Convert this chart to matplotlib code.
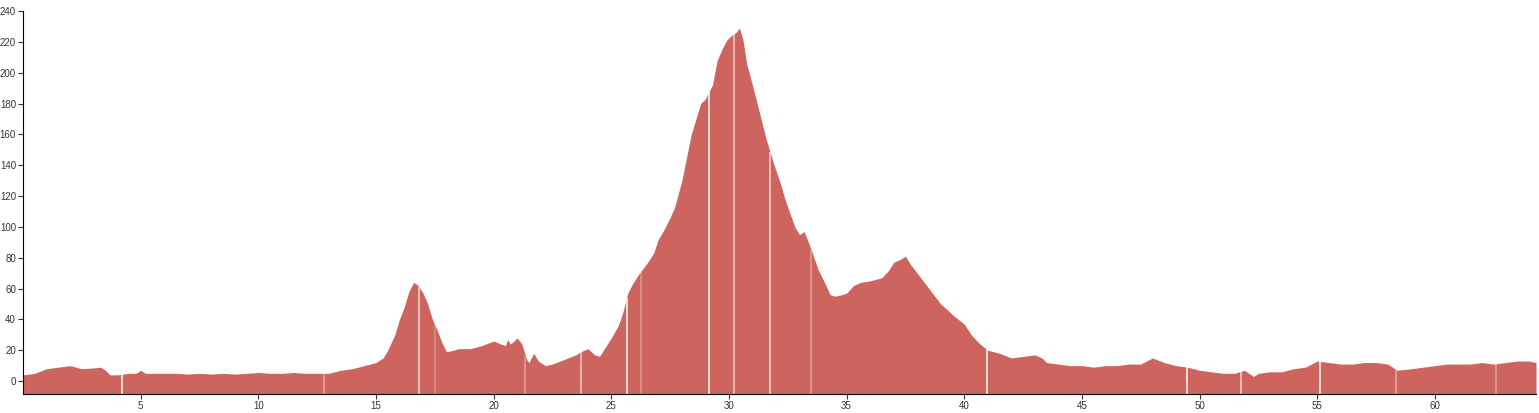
import numpy as np
import matplotlib
matplotlib.use("Agg")
import matplotlib.pyplot as plt

plt.rcParams['font.family'] = ['Liberation Sans', 'DejaVu Sans']

# 距离 (km) 与 高度
dist = [0.0, 0.5, 1.0, 1.5, 2.0, 2.5, 3.0, 3.3, 3.5, 3.7, 4.0, 4.5, 4.8, 5.0, 5.2, 5.5,
        6.0, 6.5, 7.0, 7.5, 8.0, 8.5, 9.0, 9.5, 10.0, 10.5, 11.0, 11.5, 12.0, 12.5,
        13.0, 13.5, 14.0, 14.5, 15.0, 15.3, 15.5, 15.8, 16.0, 16.2, 16.4, 16.6, 16.8,
        17.0, 17.2, 17.4, 17.6, 17.8, 18.0, 18.3, 18.5, 19.0, 19.5, 20.0, 20.3, 20.5,
        20.6, 20.7, 20.8, 21.0, 21.2, 21.4, 21.5, 21.7, 21.9, 22.2, 22.5, 23.0, 23.5,
        23.7, 24.0, 24.3, 24.5, 25.0, 25.3, 25.5, 25.7, 25.9, 26.2, 26.5, 26.8, 27.0,
        27.2, 27.5, 27.7, 28.0, 28.2, 28.4, 28.6, 28.8, 29.0, 29.1, 29.3, 29.5, 29.7,
        29.9, 30.1, 30.3, 30.45, 30.6, 30.75, 31.0, 31.3, 31.6, 31.9, 32.15, 32.4,
        32.8, 33.0, 33.2, 33.5, 33.8, 34.0, 34.3, 34.5, 34.8, 35.0, 35.3, 35.6, 36.0,
        36.5, 36.8, 37.0, 37.3, 37.5, 37.7, 38.0, 38.5, 39.0, 39.3, 39.5, 40.0, 40.3,
        40.6, 41.0, 41.5, 42.0, 42.5, 43.0, 43.3, 43.5, 44.0, 44.5, 45.0, 45.5, 46.0,
        46.5, 47.0, 47.5, 48.0, 48.5, 49.0, 49.5, 50.0, 50.5, 51.0, 51.5, 51.9, 52.3,
        52.5, 53.0, 53.5, 54.0, 54.5, 55.0, 55.5, 56.0, 56.5, 57.0, 57.5, 58.0, 58.4,
        59.0, 59.5, 60.0, 60.5, 61.0, 61.5, 62.0, 62.5, 63.0, 63.5, 64.0, 64.3]
elev = [4, 5, 8, 9, 10, 8, 8.5, 9, 7, 4, 4, 5, 5, 7, 5, 5,
        5, 5, 4.5, 5, 4.5, 5, 4.5, 5, 5.5, 5, 5, 5.5, 5, 5,
        5, 7, 8, 10, 12, 15, 20, 30, 40, 48, 58, 64, 62,
        57, 50, 40, 33, 25, 19, 20, 21, 21, 23, 26, 24, 23,
        27, 24, 25, 28, 24, 14, 12, 18, 13, 10, 11, 14, 17,
        19, 21, 17, 16, 28, 36, 45, 57, 63, 70, 76, 83, 92,
        97, 106, 113, 130, 145, 160, 170, 180, 183, 186, 192, 208, 215,
        221, 224, 226, 229, 221, 206, 192, 174, 156, 141, 130, 117,
        100, 95, 97, 85, 72, 66, 56, 55, 56, 57, 62, 64, 65,
        67, 72, 77, 79, 81, 76, 70, 60, 50, 46, 43, 37, 30,
        25, 20, 18, 15, 16, 17, 15, 12, 11, 10, 10, 9, 10,
        10, 11, 11, 15, 12, 10, 9, 7, 6, 5, 5, 7, 3,
        5, 6, 6, 8, 9, 13, 12, 11, 11, 12, 12, 11, 7,
        8, 9, 10, 11, 11, 11, 12, 11, 12, 13, 13, 12]

# 分段处的白色细线 (位置, 透明度)
gap_pos = [4.2, 12.8, 16.85, 17.5, 21.35, 23.7, 25.65, 26.25, 29.15, 30.2,
           31.75, 33.5, 40.95, 49.45, 51.75, 55.1, 58.35, 62.6]
gap_alpha = [0.9, 0.4, 0.7, 0.25, 0.35, 0.6, 0.9, 0.3, 0.9, 0.6,
             0.7, 0.35, 0.9, 0.9, 0.7, 0.9, 0.4, 0.35]

color = "#cd655e"
ymin = -8.4

fig = plt.figure(figsize=(15.39, 4.13), dpi=100)
ax = fig.add_axes([23 / 1539, 19 / 413, 1513 / 1539, 383 / 413])

ax.fill_between(dist, elev, ymin, color=color, linewidth=0)
gap_top = np.interp(gap_pos, dist, elev)
for gx, gt, ga in zip(gap_pos, gap_top, gap_alpha):
    ax.vlines(gx, ymin, gt, colors="white", alpha=ga, linewidth=1.2)

ax.set_xlim(0, 64.3)
ax.set_ylim(ymin, 240)
ax.set_yticks(np.arange(0, 241, 20))
ax.set_xticks(np.arange(5, 61, 5))
ax.tick_params(labelsize=7, length=3.5, width=0.8, pad=1.5,
               colors="#333333", labelcolor="#333333")
ax.spines["top"].set_visible(False)
ax.spines["right"].set_visible(False)
ax.spines["left"].set_color("black")
ax.spines["bottom"].set_color("black")

fig.savefig("out.png", dpi=100)
